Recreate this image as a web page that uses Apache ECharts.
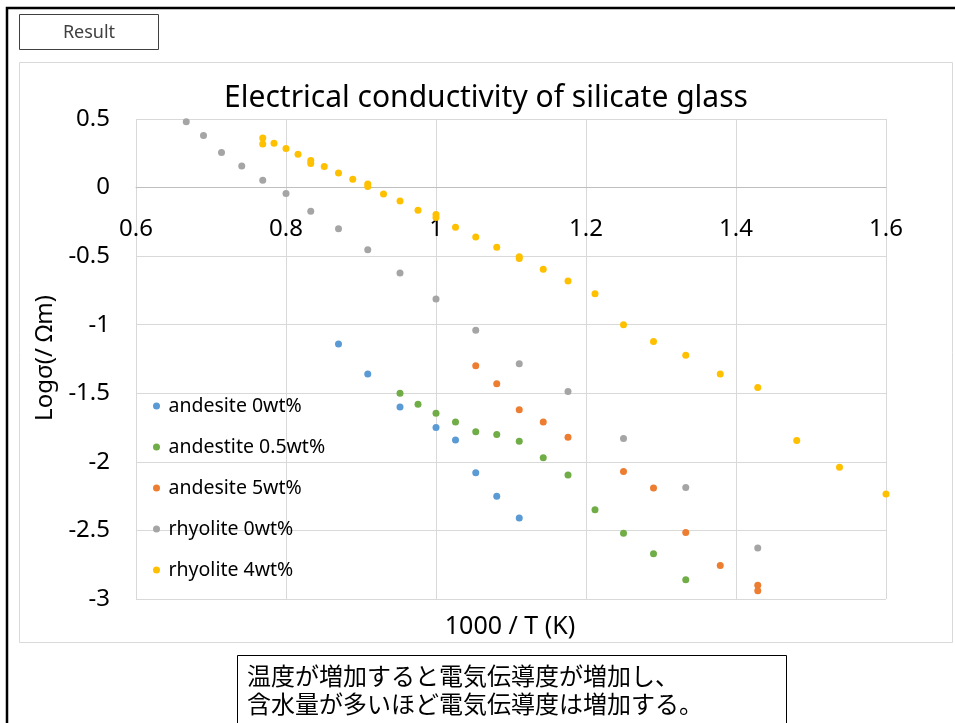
<!DOCTYPE html>
<html>
<head>
<meta charset="utf-8">
<script src="https://cdn.jsdelivr.net/npm/echarts@6/dist/echarts.min.js"></script>
<style>
html,body{margin:0;padding:0;background:#fff;}
#chart{width:955px;height:723px;}
</style>
</head>
<body>
<div id="chart"></div>
<script>
// ---- data (x = 1000/T, y = log sigma) ----
var seriesNames = ['andesite 0wt%', 'andestite 0.5wt%', 'andesite 5wt%', 'rhyolite 0wt%', 'rhyolite 4wt%'];

var andesite0X = [0.870, 0.909, 0.952, 1.0, 1.026, 1.053, 1.081, 1.111];
var andesite0Y = [-1.14, -1.36, -1.60, -1.75, -1.84, -2.08, -2.25, -2.41];

var andesite05X = [0.952, 0.976, 1.0, 1.026, 1.053, 1.081, 1.111, 1.143, 1.176, 1.212, 1.25, 1.290, 1.333];
var andesite05Y = [-1.50, -1.58, -1.645, -1.71, -1.78, -1.80, -1.85, -1.97, -2.095, -2.35, -2.52, -2.67, -2.86];

var andesite5X = [1.053, 1.081, 1.111, 1.143, 1.176, 1.25, 1.290, 1.333, 1.379, 1.429, 1.429];
var andesite5Y = [-1.30, -1.43, -1.62, -1.71, -1.82, -2.07, -2.19, -2.515, -2.755, -2.90, -2.94];

var rhyolite0X = [0.667, 0.690, 0.714, 0.741, 0.769, 0.8, 0.833, 0.870, 0.909, 0.952, 1.0, 1.053, 1.111, 1.176, 1.25, 1.333, 1.429];
var rhyolite0Y = [0.48, 0.38, 0.255, 0.158, 0.053, -0.044, -0.173, -0.30, -0.453, -0.623, -0.813, -1.04, -1.285, -1.487, -1.83, -2.187, -2.628];

var rhyolite4X = [0.769, 0.769, 0.784, 0.8, 0.816, 0.833, 0.833, 0.851, 0.870, 0.889, 0.909, 0.909, 0.930, 0.952, 0.976, 1.0, 1.0, 1.026, 1.053, 1.081, 1.111, 1.111, 1.143, 1.176, 1.212, 1.25, 1.290, 1.333, 1.379, 1.429, 1.481, 1.538, 1.6];
var rhyolite4Y = [0.362, 0.318, 0.323, 0.285, 0.243, 0.197, 0.175, 0.153, 0.107, 0.06, 0.026, 0.007, -0.047, -0.098, -0.166, -0.197, -0.219, -0.29, -0.36, -0.436, -0.504, -0.518, -0.596, -0.681, -0.774, -1.0, -1.122, -1.222, -1.36, -1.458, -1.845, -2.04, -2.234];

var colors = ['#5b9bd5', '#70ad47', '#ed7d31', '#a5a5a5', '#ffc000'];

var xMin = 0.6, xMax = 1.6, xStep = 0.2;
var yMin = -3, yMax = 0.5, yStep = 0.5;

var titleText = 'Electrical conductivity of silicate glass';
var xName = '1000 / T (K)';
var yName = 'Logσ(/ Ωm)';
var boxLabel = 'Result';
var noteLines = ['温度が増加すると電気伝導度が増加し、', '含水量が多いほど電気伝導度は増加する。'];

// ---- build ----
function pairs(xs, ys) { return xs.map(function (x, i) { return [x, ys[i]]; }); }
var allX = [andesite0X, andesite05X, andesite5X, rhyolite0X, rhyolite4X];
var allY = [andesite0Y, andesite05Y, andesite5Y, rhyolite0Y, rhyolite4Y];

var LATIN = '"Noto Sans", "Open Sans", sans-serif';
var CJK = '"Noto Sans CJK JP", "Noto Sans", sans-serif';

var GRID_TOP = 119, GRID_BOTTOM = 124, H = 723;
var plotH = H - GRID_TOP - GRID_BOTTOM;
// x axis sits where y = 0 (labels move with it)
var zeroOffset = plotH * (0 - yMin) / (yMax - yMin);

var series = seriesNames.map(function (n, i) {
  return {
    name: n,
    type: 'scatter',
    symbol: 'circle',
    symbolSize: 7,
    itemStyle: { color: colors[i], opacity: 1 },
    data: pairs(allX[i], allY[i]),
    z: 3
  };
});

var chart = echarts.init(document.getElementById('chart'), null, { renderer: 'canvas' });
chart.setOption({
  animation: false,
  backgroundColor: '#ffffff',
  color: colors,
  grid: { left: 136, right: 69, top: GRID_TOP, bottom: GRID_BOTTOM, containLabel: false },
  xAxis: {
    type: 'value',
    min: xMin, max: xMax, interval: xStep,
    position: 'bottom',
    offset: -zeroOffset,
    axisLine: { show: true, onZero: false, lineStyle: { color: '#bfbfbf', width: 1 } },
    axisTick: { show: false },
    axisLabel: { margin: 30, fontSize: 24, color: '#000', fontFamily: LATIN,
      formatter: function (v) { return String(Math.round(v * 10) / 10); } },
    splitLine: { show: true, lineStyle: { color: '#d9d9d9', width: 1 } }
  },
  yAxis: {
    type: 'value',
    min: yMin, max: yMax, interval: yStep,
    axisLine: { show: false },
    axisTick: { show: false },
    axisLabel: { margin: 26, fontSize: 24, color: '#000', fontFamily: LATIN },
    splitLine: { show: true, lineStyle: { color: '#d9d9d9', width: 1 } }
  },
  legend: {
    orient: 'vertical',
    left: 148, top: 391,
    itemWidth: 14, itemHeight: 7, itemGap: 21,
    icon: 'circle',
    textStyle: { fontSize: 19.5, color: '#000', fontFamily: LATIN, lineHeight: 20 },
    data: seriesNames
  },
  graphic: [
    { type: 'polyline', shape: { points: [[7, 723], [7, 8], [955, 8]] },
      style: { stroke: '#000', lineWidth: 2.5, fill: null }, silent: true },
    { type: 'rect', shape: { x: 19.5, y: 62.5, width: 933, height: 580 },
      style: { stroke: '#d9d9d9', lineWidth: 1, fill: null }, silent: true, z: -1 },
    { type: 'rect', shape: { x: 19.5, y: 14.5, width: 139, height: 35 },
      style: { stroke: '#404040', lineWidth: 1, fill: '#fff' }, silent: true },
    { type: 'text', x: 89, y: 33,
      style: { text: boxLabel, fontSize: 18, fontFamily: LATIN, fill: '#404040', align: 'center', verticalAlign: 'middle' } },
    { type: 'text', x: 486, y: 98,
      style: { text: titleText, fontSize: 30, fontFamily: LATIN, fill: '#000', align: 'center', verticalAlign: 'middle' } },
    { type: 'text', x: 510, y: 627,
      style: { text: xName, fontSize: 25, fontFamily: LATIN, fill: '#000', align: 'center', verticalAlign: 'middle' } },
    { type: 'text', x: 45, y: 358, rotation: Math.PI / 2,
      style: { text: yName, fontSize: 24, fontFamily: LATIN, fill: '#000', align: 'center', verticalAlign: 'middle' } },
    { type: 'rect', shape: { x: 237.5, y: 655.5, width: 549, height: 90 },
      style: { stroke: '#000', lineWidth: 1, fill: '#fff' }, silent: true },
    { type: 'text', x: 247, y: 676,
      style: { text: noteLines[0], fontSize: 24, fontFamily: CJK, fill: '#000', align: 'left', verticalAlign: 'middle' } },
    { type: 'text', x: 247, y: 704,
      style: { text: noteLines[1], fontSize: 24, fontFamily: CJK, fill: '#000', align: 'left', verticalAlign: 'middle' } }
  ],
  series: series
});
</script>
</body>
</html>
